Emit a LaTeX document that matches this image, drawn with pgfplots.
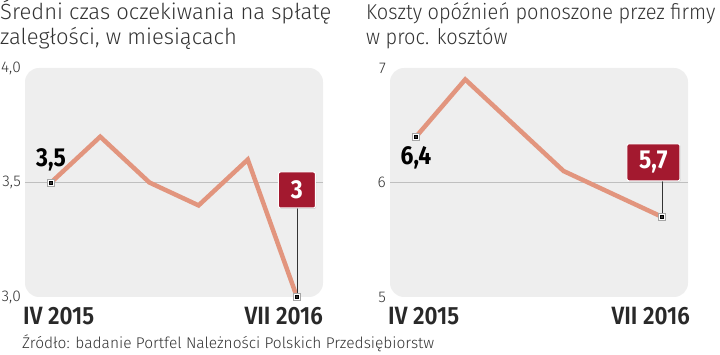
\documentclass[border=0pt]{standalone}
\usepackage{pgfplots}
\pgfplotsset{compat=1.18}
\usepackage{fontspec}
\setmainfont{Fira Sans}
\newfontfamily\lightfont{Fira Sans Light}
\newfontfamily\lightnarrow{Fira Sans Light}[FakeStretch=0.93]
\newfontfamily\condbold{Fira Sans Bold}[FakeStretch=0.88]
\newfontfamily\condsemi{Fira Sans SemiBold}[FakeStretch=0.9]
\usetikzlibrary{shadows}
\definecolor{bgc}{HTML}{EEEEEE}
\definecolor{linec}{HTML}{E2957E}
\definecolor{boxc}{HTML}{A3192F}
\definecolor{txtc}{HTML}{333333}
\pgfplotsset{
  panel/.style={
    anchor=south west, width=298pt, height=229pt, scale only axis,
    xmin=-0.53, xmax=5.53, clip=false,
    axis line style={draw=none}, xtick=\empty, major tick length=0pt,
    axis background/.style={fill=bgc, rounded corners=14pt},
    yticklabel style={font=\lightfont\fontsize{15.5}{15.5}\selectfont, text=txtc, anchor=east, inner xsep=0pt, xshift=-4pt,
      /pgf/number format/assume math mode=true, /pgf/number format/use comma},
    extra y tick labels={},
    extra y tick style={grid=major, major grid style={draw=black!25, line width=0.8pt}},
  },
  series/.style={color=linec, line width=4.5pt, mark=none, line join=miter},
  outer/.style={only marks, mark=square*, mark size=3.5pt, mark options={fill=white, draw=black!35, line width=0.6pt}},
  inner/.style={only marks, mark=square*, mark size=1.4pt, mark options={fill=black!80, draw=none}},
}
\begin{document}
\begin{tikzpicture}[x=1pt,y=1pt]
\path[use as bounding box] (0,0) rectangle (720,355);
% titles
\node[anchor=base west, inner sep=0pt, font=\lightfont\fontsize{22}{22}\selectfont, text=txtc] at (0,335) {Średni czas oczekiwania na spłatę};
\node[anchor=base west, inner sep=0pt, font=\lightfont\fontsize{22}{22}\selectfont, text=txtc] at (0,310) {zaległości, w miesiącach};
\node[anchor=base west, inner sep=0pt, font=\lightnarrow\fontsize{21.5}{21.5}\selectfont, text=txtc] at (366,335) {Koszty opóźnień ponoszone przez firmy};
\node[anchor=base west, inner sep=0pt, font=\lightnarrow\fontsize{21.5}{21.5}\selectfont, text=txtc] at (366,310) {w proc. kosztów};
\node[anchor=base west, inner sep=0pt, font=\lightfont\fontsize{15.5}{15.5}\selectfont, text=txtc] at (22,6) {Źródło: badanie Portfel Należności Polskich Przedsiębiorstw};

\begin{axis}[panel, at={(25pt,58pt)}, ymin=3, ymax=4, ytick={3,3.5,4},
  yticklabel style={/pgf/number format/fixed, /pgf/number format/fixed zerofill, /pgf/number format/precision=1},
  extra y ticks={3.5}]
\addplot[series] coordinates {(0,3.5) (1,3.7) (2,3.5) (3,3.4) (4,3.6) (5,3.0)};
\draw[black!80, line width=0.8pt] (axis cs:5,3.0) -- ([yshift=89pt]axis cs:5,3.0);
\addplot[outer] coordinates {(0,3.5) (5,3.0)};
\addplot[inner] coordinates {(0,3.5) (5,3.0)};
\node[anchor=base, inner sep=0pt, font=\condbold\fontsize{26}{26}\selectfont, text=black] at (axis cs:0,3.5) [yshift=16pt] {3,5};
\node[fill=boxc, text=white, draw=white, line width=1pt, rounded corners=2pt, minimum width=37pt, minimum height=36pt, inner sep=0pt,
  font=\condbold\fontsize{26}{26}\selectfont, drop shadow={opacity=0.35, shadow xshift=0.8pt, shadow yshift=-0.8pt}]
  at (axis cs:5,3.0) [yshift=107pt] {3};
\node[anchor=base west, inner sep=0pt, font=\condsemi\fontsize{25}{25}\selectfont, text=txtc!80!black] at (rel axis cs:0,0) [xshift=-2pt, yshift=-28pt] {IV 2015};
\node[anchor=base east, inner sep=0pt, font=\condsemi\fontsize{25}{25}\selectfont, text=txtc!80!black] at (rel axis cs:1,0) [yshift=-28pt] {VII 2016};
\end{axis}

\begin{axis}[panel, at={(390pt,58pt)}, ymin=5, ymax=7, ytick={5,6,7},
  extra y ticks={6}]
\addplot[series] coordinates {(0,6.4) (1,6.9) (3,6.1) (5,5.7)};
\draw[black!80, line width=0.8pt] (axis cs:5,5.7) -- ([yshift=37pt]axis cs:5,5.7);
\addplot[outer] coordinates {(0,6.4) (5,5.7)};
\addplot[inner] coordinates {(0,6.4) (5,5.7)};
\node[anchor=base, inner sep=0pt, font=\condbold\fontsize{26}{26}\selectfont, text=black] at (axis cs:0,6.4) [yshift=-28pt] {6,4};
\node[fill=boxc, text=white, draw=white, line width=1pt, rounded corners=2pt, minimum width=53pt, minimum height=37pt, inner sep=0pt,
  font=\condbold\fontsize{26}{26}\selectfont, drop shadow={opacity=0.35, shadow xshift=0.8pt, shadow yshift=-0.8pt}]
  at (axis cs:5,5.7) [xshift=-8.5pt, yshift=54.5pt] {5,7};
\node[anchor=base west, inner sep=0pt, font=\condsemi\fontsize{25}{25}\selectfont, text=txtc!80!black] at (rel axis cs:0,0) [xshift=-2pt, yshift=-28pt] {IV 2015};
\node[anchor=base east, inner sep=0pt, font=\condsemi\fontsize{25}{25}\selectfont, text=txtc!80!black] at (rel axis cs:1,0) [xshift=2pt, yshift=-28pt] {VII 2016};
\end{axis}
\end{tikzpicture}
\end{document}
